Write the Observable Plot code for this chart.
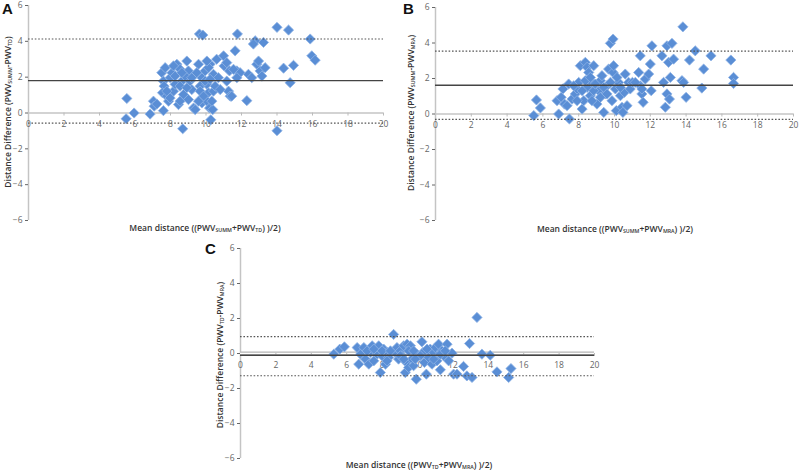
<!DOCTYPE html>
<html>
<head>
<meta charset="utf-8">
<script src="https://cdn.jsdelivr.net/npm/d3@7"></script>
<script src="https://cdn.jsdelivr.net/npm/@observablehq/plot@0.6"></script>
<style>
  html, body { margin: 0; padding: 0; background: #fff; }
  #root { position: relative; width: 800px; height: 471px; overflow: hidden; font-family: "Open Sans", "Liberation Sans", sans-serif; }
  .panel { position: absolute; }
  .letter { position: absolute; font-family: "Liberation Sans", Arial, sans-serif; font-weight: bold; font-size: 15px; color: #111; line-height: 1; }
  .xt, .yt { position: absolute; white-space: nowrap; font-size: 8.5px; font-weight: 600; color: #333; line-height: 1; }
  .xt { transform: translate(-50%, -50%); }
  .yt { transform: translate(-50%, -50%) rotate(-90deg); }
  sub { font-size: 0.62em; vertical-align: -0.25em; line-height: 0; }
</style>
</head>
<body>
<div id="root"></div>
<script>
// ---- data ----
const xTicks = [0, 2, 4, 6, 8, 10, 12, 14, 16, 18, 20];
const yTicks = [-6, -4, -2, 0, 2, 4, 6];

// Panel A: PWV_SUMM vs PWV_TD
const aX = [5.54,5.5,5.95,6.85,7.04,7.08,7.23,7.6,7.51,7.6,7.64,7.55,7.79,7.89,7.98,8.08,8.17,8.26,8.36,8.54,8.45,8.54,8.69,8.64,8.73,8.92,9.01,9.1,9.2,9.3,9.39,9.58,9.67,9.63,9.82,9.77,9.77,9.95,10.05,10.14,10.05,10.2,10.27,10.38,10.42,10.23,10.42,10.7,10.6,10.99,11.02,11.17,11.27,11.36,11.45,11.32,11.64,11.77,11.74,11.92,12.3,12.39,12.58,12.77,12.86,12.96,13.05,13.24,13.33,14.0,14.0,14.37,14.65,14.74,14.93,15.87,15.96,16.15,7.7,8.17,8.54,8.83,8.92,9.2,9.48,9.67,9.86,9.95,10.14,10.23,10.33,10.52,10.8,11.17,11.55,11.74,7.79,7.98,8.26,8.64,9.01,9.58,10.05,12.67,13.15];
const aY = [0.81,-0.32,0.0,-0.06,0.66,0.38,0.5,0.13,2.25,1.78,1.5,1.13,0.94,0.66,1.97,2.25,1.22,1.6,2.72,2.44,0.47,0.66,-0.88,1.78,1.03,2.9,2.35,1.78,1.31,0.28,0.19,2.72,1.5,4.41,4.35,0.56,1.97,2.35,1.6,1.13,0.66,0.28,-0.38,0.19,1.22,2.72,2.16,1.97,3.0,3.19,2.63,1.78,1.22,0.94,0.94,2.35,3.47,4.41,2.35,2.25,0.69,2.16,1.97,4.03,2.72,2.9,2.35,3.94,2.53,-0.99,4.78,2.5,4.63,1.69,2.66,4.13,3.19,2.95,2.53,2.63,1.5,2.06,1.41,1.97,2.25,1.22,0.94,1.78,2.53,1.88,0.66,1.5,1.31,2.81,2.44,1.97,1.22,0.84,2.06,2.25,0.75,0.66,2.9,3.85,2.06];
const aMean = [1.81];
const aLimits = [-0.56, 4.13];

// Panel B: PWV_SUMM vs PWV_MRA
const bX = [5.49,5.64,5.86,6.88,6.79,7.02,7.12,7.21,7.35,7.48,7.44,7.63,7.81,7.91,8.0,8.09,8.19,8.28,8.37,8.47,8.47,8.56,8.65,8.74,8.84,9.02,9.12,9.21,9.3,9.4,9.49,9.58,9.67,9.77,9.92,9.86,9.92,9.95,10.05,10.1,10.23,10.33,10.42,10.47,10.55,10.6,10.7,10.79,10.88,11.35,11.44,11.44,11.53,11.6,11.72,11.91,12.0,12.09,12.05,12.65,12.74,12.84,12.93,12.93,13.02,13.07,13.12,13.21,13.3,13.82,13.77,13.86,14.0,14.19,14.51,14.88,14.98,15.39,16.5,16.65,16.65,7.72,7.91,8.19,8.37,8.84,8.93,9.21,9.4,9.58,9.77,10.14,10.33,11.0,11.16,11.53,8.74,8.65];
const bY = [-0.09,0.79,0.34,0.0,0.75,0.94,1.41,0.56,0.47,-0.28,1.69,0.84,1.13,1.41,1.78,2.72,0.28,0.75,2.91,1.5,2.63,2.34,1.03,1.78,2.72,0.56,1.31,1.88,2.16,0.09,1.13,1.59,2.53,3.98,4.22,0.75,2.34,2.72,1.41,0.19,1.78,1.03,0.38,0.09,1.22,2.25,0.47,1.78,1.41,2.34,3.28,1.59,1.13,0.66,1.97,2.25,2.81,3.84,1.31,3.28,1.78,0.38,1.13,3.84,2.91,0.84,2.06,3.98,3.09,4.91,1.88,1.78,0.94,3.04,3.56,1.46,2.53,3.28,3.04,2.06,1.72,1.59,0.75,1.31,1.88,1.31,1.69,0.94,1.5,1.13,1.78,2.06,1.5,1.78,1.78,1.41,0.75,2.06];
const bMean = [1.62];
const bLimits = [-0.3, 3.54];

// Panel C: PWV_TD vs PWV_MRA
const cX = [5.27,5.61,5.87,6.59,6.68,6.78,6.97,7.06,7.25,7.34,7.44,7.53,7.72,7.81,7.9,8.0,8.09,8.19,8.28,8.37,8.65,8.74,8.84,8.93,9.03,9.12,9.22,9.31,9.37,9.41,9.5,9.6,9.69,9.78,9.93,9.97,10.25,10.31,10.39,10.5,10.63,10.72,10.82,10.91,11.01,11.1,11.19,11.29,11.38,11.48,11.67,11.76,11.95,12.04,12.23,12.6,12.79,12.94,13.08,13.36,13.64,14.11,14.49,15.15,15.28,7.15,7.53,8.0,8.47,9.03,9.5,9.78,10.16,10.54,10.91,11.29,11.57,8.28,9.22,9.88];
const cY = [-0.04,0.25,0.38,0.34,-0.61,-0.04,0.34,-0.32,-0.61,0.06,0.44,-0.42,-0.04,0.44,-1.09,-0.13,0.25,-0.61,0.06,-0.23,1.09,0.06,0.34,-0.32,0.15,-0.13,0.44,-1.09,-0.51,0.53,-0.8,0.44,-0.32,-0.7,-1.47,-0.04,0.67,0.06,-0.51,-1.18,-0.23,0.25,-0.61,0.06,0.34,-0.42,0.53,-0.93,0.15,-0.13,0.53,-0.42,0.02,-1.18,-1.18,-0.74,-1.28,0.57,-1.37,2.06,-0.04,-0.1,-1.05,-1.37,-0.86,0.15,0.25,0.15,0.15,-0.13,0.15,0.15,-0.13,0.25,-0.32,-0.04,0.15,-0.42,-0.32,-0.32];
const cMean = [-0.1];
const cLimits = [-1.27, 0.97];

// ---- drawing ----
const dotFill = "#5a8ed5";
const dotStroke = "#8fb4e6";

function panel(xs, ys, mean, limits, m, doubleZero) {
  const data = xs.map((x, i) => ({x, y: ys[i]}));
  const zeroMarks = doubleZero
    ? [Plot.ruleY([0], {stroke: "#b5b5b5", strokeWidth: 4}), Plot.ruleY([0], {stroke: "#fff", strokeWidth: 1.6})]
    : [Plot.ruleY([0], {stroke: "#c4c4c4", strokeWidth: 1.5})];
  return Plot.plot({
    width: 400,
    height: m.h,
    marginLeft: m.l,
    marginRight: m.r,
    marginTop: m.t,
    marginBottom: m.b,
    style: {fontFamily: "'Open Sans', 'Liberation Sans', sans-serif", background: "transparent"},
    x: {domain: [0, 20], axis: null},
    y: {domain: [-6, 6]},
    marks: [
      Plot.ruleX([0], {y1: -6, y2: 6, stroke: "#c4c4c4", strokeWidth: 1.5}),
      Plot.axisY({ticks: yTicks, anchor: "left", tickSize: 3, tickPadding: 3, fontSize: 8.5, color: "#666", label: null}),
      ...zeroMarks,
      Plot.ruleX(xTicks.slice(1), {x: d => d, y1: 0, y2: -0.17, stroke: "#bbb"}),
      Plot.text(xTicks, {x: d => d, y: 0, text: d => String(d), dy: m.dy, fontSize: 8.5, fill: "#666"}),
      Plot.dot(data, {x: "x", y: "y", symbol: "diamond2", r: 4.6, fill: dotFill, stroke: dotStroke, strokeWidth: 0.8}),
      Plot.ruleY(limits, {stroke: "#555", strokeWidth: 1.2, strokeDasharray: "1.6,1.8"}),
      Plot.ruleY(mean, {stroke: "#444", strokeWidth: 1.3})
    ]
  });
}

const root = document.getElementById("root");
function place(node, left, top) {
  const d = document.createElement("div");
  d.className = "panel";
  d.style.left = left + "px";
  d.style.top = top + "px";
  d.appendChild(node);
  root.appendChild(d);
}
function html(cls, content, left, top) {
  const d = document.createElement("div");
  d.className = cls;
  d.style.left = left + "px";
  d.style.top = top + "px";
  d.innerHTML = content;
  root.appendChild(d);
}

place(panel(aX, aY, aMean, aLimits, {h: 240, l: 28, r: 17, t: 5, b: 20, dy: 11}), 0, 0);
place(panel(bX, bY, bMean, bLimits, {h: 240, l: 35, r: 7, t: 7, b: 20, dy: 11}), 400, 0);
place(panel(cX, cY, cMean, cLimits, {h: 236, l: 40, r: 6, t: 13, b: 13, dy: 12}, true), 200, 235);

html("letter", "A", 2, 1);
html("letter", "B", 403, 1);
html("letter", "C", 205, 241);

html("xt", "Mean distance ((PWV<sub>SUMM</sub>+PWV<sub>TD</sub>) )/2)", 205, 228);
html("xt", "Mean distance ((PWV<sub>SUMM</sub>+PWV<sub>MRA</sub>) )/2)", 615, 229);
html("xt", "Mean distance ((PWV<sub>TD</sub>+PWV<sub>MRA</sub>) )/2)", 419, 465);

html("yt", "Distance Difference (PWV<sub>SUMM</sub>-PWV<sub>TD</sub>)", 8, 112);
html("yt", "Distance Difference (PWV<sub>SUMM</sub>-PWV<sub>MRA</sub>)", 411, 113);
html("yt", "Distance Difference (PWV<sub>TD</sub>-PWV<sub>MRA</sub>)", 220, 355);
</script>
</body>
</html>
